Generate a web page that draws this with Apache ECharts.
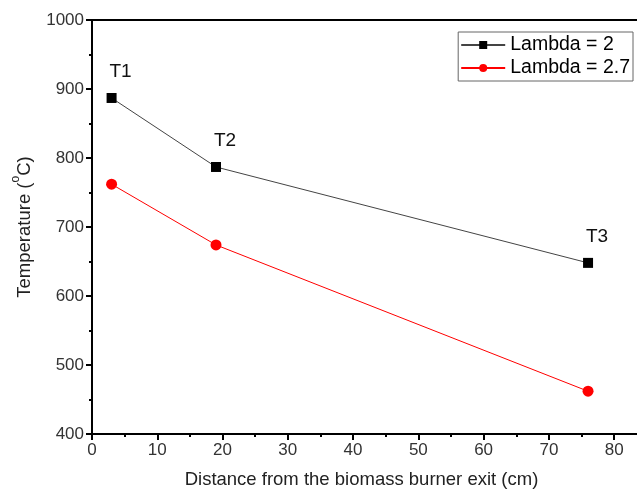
<!DOCTYPE html>
<html>
<head>
<meta charset="utf-8">
<script src="https://cdn.jsdelivr.net/npm/echarts@6/dist/echarts.min.js"></script>
<style>
  html, body { margin: 0; padding: 0; background: #fff; }
  #chart { width: 637px; height: 496px; }
</style>
</head>
<body>
<div id="chart"></div>
<script>
// distances (cm) and temperatures (°C)
var distance = [3, 19, 76];
var pointNames = ["T1", "T2", "T3"];
var lambda2 = [887, 787, 648];
var lambda27 = [762, 674, 462];
var xMajor = [0, 10, 20, 30, 40, 50, 60, 70, 80];
var xMinor = [5, 15, 25, 35, 45, 55, 65, 75];

var font = "Liberation Sans, Arial, sans-serif";
var xMax = 83.5; // frame runs past 80 and is cut at the right edge

function pairs(ys, withLabel) {
  return ys.map(function (y, i) {
    var d = { value: [distance[i], y] };
    if (withLabel) d.name = pointNames[i];
    return d;
  });
}

var chart = echarts.init(document.getElementById("chart"));

var option = {
  backgroundColor: "#fff",
  animation: false,
  grid: { left: 92, top: 20, right: 0, bottom: 62 },
  legend: {
    orient: "vertical",
    right: 4,
    top: 32,
    itemWidth: 44,
    itemHeight: 10,
    itemGap: 3,
    padding: [3, 3, 3, 2],
    borderColor: "#666",
    borderWidth: 1,
    backgroundColor: "#fff",
    textStyle: { fontFamily: font, fontSize: 19.5, color: "#000" },
    data: ["Lambda = 2", "Lambda = 2.7"]
  },
  xAxis: [
    {
      type: "value",
      min: 0,
      max: xMax,
      name: "Distance from the biomass burner exit (cm)",
      nameLocation: "middle",
      nameGap: 36,
      nameTextStyle: { fontFamily: font, fontSize: 18.5, color: "#222", padding: [0, 6, 0, 0] },
      axisLine: { lineStyle: { color: "#000", width: 2 } },
      axisTick: { customValues: xMajor, length: 6, lineStyle: { color: "#000", width: 2 } },
      axisLabel: { customValues: xMajor, fontFamily: font, fontSize: 17, color: "#333", margin: 8 },
      splitLine: { show: false }
    },
    {
      // minor ticks on the bottom axis
      type: "value",
      position: "bottom",
      min: 0,
      max: xMax,
      axisLine: { show: false },
      axisTick: { customValues: xMinor, length: 3, lineStyle: { color: "#000", width: 2 } },
      axisLabel: { show: false },
      splitLine: { show: false }
    },
    {
      // top frame line
      type: "value",
      position: "top",
      min: 0,
      max: xMax,
      axisLine: { lineStyle: { color: "#000", width: 2 } },
      axisTick: { show: false },
      axisLabel: { show: false },
      splitLine: { show: false }
    }
  ],
  yAxis: {
    type: "value",
    min: 400,
    max: 1000,
    interval: 100,
    name: "{n|Temperature (}{s|o}{n|C)}",
    nameLocation: "middle",
    nameGap: 58,
    nameRotate: 90,
    nameTextStyle: {
      rich: {
        n: { fontFamily: font, fontSize: 18.5, color: "#222", lineHeight: 20, verticalAlign: "bottom" },
        s: { fontFamily: font, fontSize: 12, color: "#222", lineHeight: 12, padding: [0, 0, 12, 0], verticalAlign: "bottom" }
      }
    },
    axisLine: { lineStyle: { color: "#000", width: 2 } },
    axisTick: { length: 6, lineStyle: { color: "#000", width: 2 } },
    minorTick: { show: true, splitNumber: 2, length: 3, lineStyle: { color: "#000", width: 2 } },
    axisLabel: {
      fontFamily: font, fontSize: 17, color: "#333", margin: 8,
      formatter: function (v) { return String(v); }
    },
    splitLine: { show: false }
  },
  series: [
    {
      name: "Lambda = 2",
      type: "line",
      data: pairs(lambda2, true),
      symbol: "rect",
      symbolSize: 10,
      itemStyle: { color: "#000" },
      lineStyle: { color: "#444", width: 1 },
      label: {
        show: true,
        position: "top",
        distance: 12,
        offset: [9, 0],
        formatter: "{b}",
        fontFamily: font,
        fontSize: 19,
        color: "#111"
      }
    },
    {
      name: "Lambda = 2.7",
      type: "line",
      data: pairs(lambda27, false),
      symbol: "circle",
      symbolSize: 11,
      itemStyle: { color: "#f00" },
      lineStyle: { color: "#f00", width: 1 }
    }
  ]
};

chart.setOption(option);
</script>
</body>
</html>
